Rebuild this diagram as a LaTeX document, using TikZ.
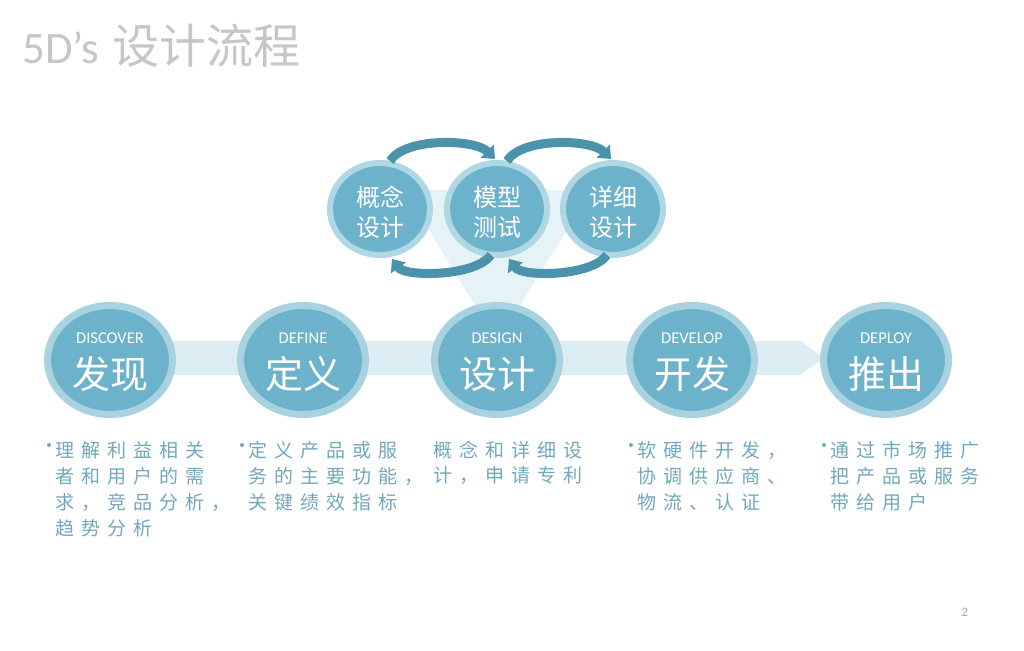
\documentclass[tikz,border=0pt]{standalone}
\usepackage{fontspec}
\setmainfont{Carlito}
\newfontfamily\cjk{Noto Sans CJK SC}
\usetikzlibrary{shapes.geometric,arrows.meta,calc}
\definecolor{ringc}{HTML}{A8D2E0}
\definecolor{fillc}{HTML}{6CB2CA}
\definecolor{sring}{HTML}{B0D8E4}
\definecolor{arcc}{HTML}{4A93AA}
\definecolor{bandc}{HTML}{DCEDF3}
\definecolor{funnelc}{HTML}{E5F2F6}
\definecolor{descc}{HTML}{72A8BD}
\definecolor{titlec}{HTML}{C6C6C6}
\definecolor{pgc}{HTML}{A8A8A8}
\newdimen\lsp \lsp=7pt
\makeatletter
\def\spc#1{\spc@aux#1\relax}
\def\spc@aux#1{\ifx\relax#1\else#1\kern\lsp\expandafter\spc@aux\fi}
\makeatother
\tikzset{
  bigc/.style={ellipse, draw=ringc, fill=fillc, line width=7pt, minimum width=125pt, minimum height=109pt, inner sep=0pt},
  smallc/.style={ellipse, draw=sring, fill=fillc, line width=6pt, minimum width=100pt, minimum height=92pt, inner sep=0pt},
  captxt/.style={text=white, inner sep=0pt, font=\fontsize{16.5}{16.5}\selectfont},
  bigtxt/.style={text=white, inner sep=0pt, font=\cjk\fontsize{38}{38}\selectfont},
  smalltxt/.style={text=white, inner sep=0pt, align=center, font=\cjk\fontsize{24}{30}\selectfont},
  desc/.style={anchor=west, inner sep=0pt, text=descc, font=\cjk\fontsize{19}{19}\selectfont},
  bul/.style={circle, fill=descc, inner sep=0pt, minimum size=4pt},
  loop/.style={draw=arcc, line width=9pt, -{Triangle[width=18pt,length=11pt]}},
}
\begin{document}
\begin{tikzpicture}[x=1pt,y=-1pt]
\useasboundingbox[fill=white] (0,0) rectangle (1024,650);
% title
\node[anchor=base west, inner sep=0pt, text=titlec, font=\fontsize{45}{45}\selectfont] (title) at (22,64) {5D’s\hspace{14pt}{\cjk\fontsize{47}{47}\selectfont 设计流程}};
% background band with arrow tip
\fill[bandc] (110,341) -- (800,341) -- (824,358) -- (800,375) -- (110,375) -- cycle;
% funnel
\fill[funnelc] (405,190) -- (592,190) -- (497,342) -- cycle;
% top circles
\node[smallc] (c1) at (380,209) {};
\node[smallc] (c2) at (497,209) {};
\node[smallc] (c3) at (613,209) {};
\node[smalltxt] (t1) at ($(c1)+(0,3)$) {概念\\设计};
\node[smalltxt] (t2) at ($(c2)+(0,3)$) {模型\\测试};
\node[smalltxt] (t3) at ($(c3)+(0,3)$) {详细\\设计};
% loop arrows
\draw[loop] ($(c1)+(10,-48)$) .. controls ($(c1)+(25,-72)$) and ($(c2)+(-22,-70)$) .. ($(c2)+(-2,-50)$);
\draw[loop] ($(c2)+(10,-48)$) .. controls ($(c2)+(25,-72)$) and ($(c3)+(-22,-70)$) .. ($(c3)+(-2,-50)$);
\draw[loop] ($(c2)+(-6,46)$) .. controls ($(c2)+(-22,68)$) and ($(c1)+(25,68)$) .. ($(c1)+(12,50)$);
\draw[loop] ($(c3)+(-6,46)$) .. controls ($(c3)+(-22,68)$) and ($(c2)+(25,68)$) .. ($(c2)+(12,50)$);
% big circles
\node[bigc] (d1) at (110,360) {};
\node[bigc] (d2) at (303,360) {};
\node[bigc] (d3) at (497,360) {};
\node[bigc] (d4) at (692,360) {};
\node[bigc] (d5) at (886,360) {};
\node[captxt] (e1) at ($(d1)+(0,-22)$) {DISCOVER};
\node[captxt] (e2) at ($(d2)+(0,-22)$) {DEFINE};
\node[captxt] (e3) at ($(d3)+(0,-22)$) {DESIGN};
\node[captxt] (e4) at ($(d4)+(0,-22)$) {DEVELOP};
\node[captxt] (e5) at ($(d5)+(0,-22)$) {DEPLOY};
\node[bigtxt] (z1) at ($(d1)+(0,14)$) {发现};
\node[bigtxt] (z2) at ($(d2)+(0,14)$) {定义};
\node[bigtxt] (z3) at ($(d3)+(0,14)$) {设计};
\node[bigtxt] (z4) at ($(d4)+(0,14)$) {开发};
\node[bigtxt] (z5) at ($(d5)+(0,14)$) {推出};
% descriptions
\node[desc] (p1a) at (55,450) {\spc{理解利益相关}};
\node[desc] (p1b) at (55,476) {\spc{者和用户的需}};
\node[desc] (p1c) at (55,502) {\spc{求，竞品分析，}};
\node[desc] (p1d) at (55,528) {\spc{趋势分析}};
\node[bul] (b1) at ($(p1a.west)+(-6,-5)$) {};
\node[desc] (p2a) at (248,450) {\spc{定义产品或服}};
\node[desc] (p2b) at (248,476) {\spc{务的主要功能，}};
\node[desc] (p2c) at (248,502) {\spc{关键绩效指标}};
\node[bul] (b2) at ($(p2a.west)+(-6,-5)$) {};
\node[desc] (p3a) at (433,450) {\spc{概念和详细设}};
\node[desc] (p3b) at (433,476) {\spc{计，申请专利}};
\node[desc] (p4a) at (637,450) {\spc{软硬件开发，}};
\node[desc] (p4b) at (637,476) {\spc{协调供应商、}};
\node[desc] (p4c) at (637,502) {\spc{物流、认证}};
\node[bul] (b4) at ($(p4a.west)+(-6,-5)$) {};
\node[desc] (p5a) at (830,450) {\spc{通过市场推广}};
\node[desc] (p5b) at (830,476) {\spc{把产品或服务}};
\node[desc] (p5c) at (830,502) {\spc{带给用户}};
\node[bul] (b5) at ($(p5a.west)+(-6,-5)$) {};
% page number
\node[text=pgc, inner sep=0pt, font=\fontsize{13}{13}\selectfont] (pn) at (965,612) {2};
\end{tikzpicture}
\end{document}
